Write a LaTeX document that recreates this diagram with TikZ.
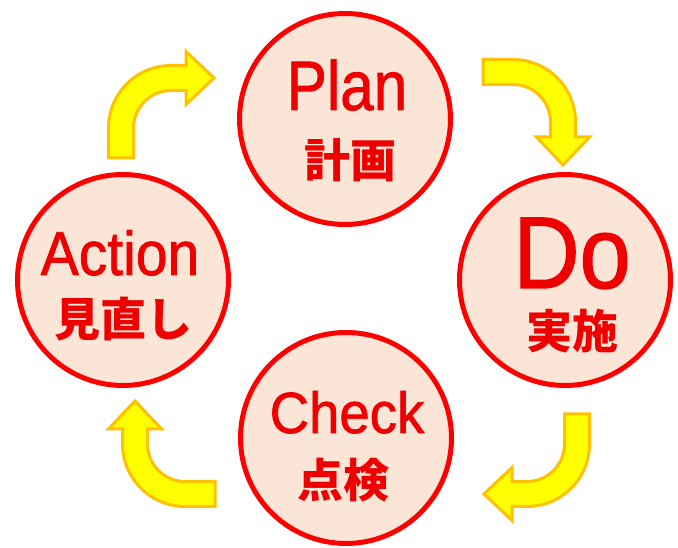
\documentclass[tikz,border=0pt]{standalone}
\usepackage{fontspec}
\usepackage{graphicx}
\setmainfont{Liberation Sans}
\newfontfamily\enfont{Liberation Sans}[FakeBold=1.3]
\newfontfamily\jpfont{Noto Sans CJK JP}
\definecolor{peach}{HTML}{FBE5D6}
\definecolor{arrowfill}{HTML}{FFFF00}
\definecolor{arrowline}{HTML}{FFC000}
\definecolor{labelred}{HTML}{EE0000}
\newcommand{\enlabel}[3]{\enfont\fontsize{#1}{#1}\selectfont\scalebox{#2}[1]{#3}}
\tikzset{
  stage/.style={shape=circle, draw=red, line width=5pt, fill=peach, minimum size=211pt, inner sep=0pt},
  entext/.style={text=labelred, anchor=base, inner sep=0pt},
  jptext/.style={text=labelred, inner sep=0pt, font=\jpfont\bfseries\fontsize{46}{46}\selectfont},
  arrowbox/.style={fill=arrowfill, draw=arrowline, line width=3pt, line join=miter},
  cyclearrow/.pic={
    \draw[arrowbox] (-62.5,-30) -- (-62.5,0) arc[start angle=180, end angle=90, radius=62.5]
      -- (15,62.5) -- (15,76.5) -- (43,50) -- (15,23.5) -- (15,37.5) -- (0,37.5)
      arc[start angle=90, end angle=180, radius=37.5] -- (-37.5,-30) -- cycle;
  }
}
\begin{document}
\begin{tikzpicture}[x=1pt,y=1pt]
\useasboundingbox (0,0) rectangle (678,548);
\node[stage] (plan) at (345,429) {};
\node[stage] (do) at (565,268) {};
\node[stage] (check) at (346,110) {};
\node[stage] (action) at (123,268) {};

\node[entext] (planen) at ([xshift=2,yshift=9]plan.center) {\enlabel{70}{0.86}{Plan}};
\node[jptext] (planjp) at ([xshift=5,yshift=-41]plan.center) {計画};
\node[entext] (doen) at ([xshift=7,yshift=-8]do.center) {\enlabel{102}{0.9}{Do}};
\node[jptext] (dojp) at ([xshift=7,yshift=-51]do.center) {実施};
\node[entext] (checken) at ([xshift=1,yshift=5]check.center) {\enlabel{58}{0.94}{Check}};
\node[jptext] (checkjp) at ([xshift=-3,yshift=-42]check.center) {点検};
\node[entext] (actionen) at ([xshift=-3,yshift=5]action.center) {\enlabel{62}{0.92}{Action}};
\node[jptext] (actionjp) at ([xshift=0,yshift=-39]action.center) {見直し};

\pic at (171,420) {cyclearrow};
\pic[rotate=-90] at (513,426) {cyclearrow};
\pic[rotate=180] at (527,104) {cyclearrow};
\pic[rotate=90] at (185,104) {cyclearrow};
\end{tikzpicture}
\end{document}
